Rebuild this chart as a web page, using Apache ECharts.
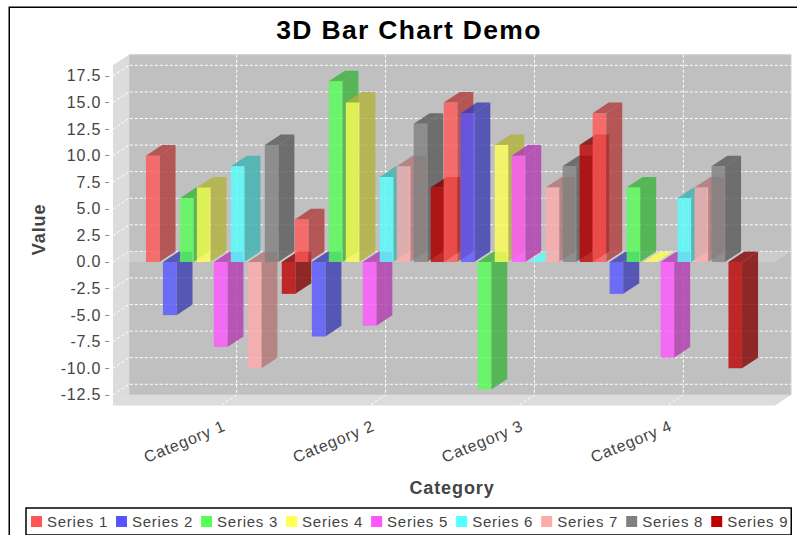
<!DOCTYPE html>
<html>
<head>
<meta charset="utf-8">
<script src="https://cdn.jsdelivr.net/npm/echarts@6/dist/echarts.min.js"></script>
<style>
html, body { margin: 0; padding: 0; background: #fff; }
#chart { width: 797px; height: 535px; }
/* the reference text is tracked out a little */
#chart text { letter-spacing: 0.05em; }
</style>
</head>
<body>
<div id="chart"></div>
<script>
var categories = ["Category 1", "Category 2", "Category 3", "Category 4"];
var seriesNames = ["Series 1", "Series 2", "Series 3", "Series 4", "Series 5", "Series 6", "Series 7", "Series 8", "Series 9"];
var seriesColors = ["#FF5555", "#5555FF", "#55FF55", "#FFFF55", "#FF55FF", "#55FFFF", "#FFAAAA", "#808080", "#BB0000"];
var series1 = [10, 4, 15, 14];
var series2 = [-5, -7, 14, -3];
var series3 = [6, 17, -12, 7];
var series4 = [7, 15, 11, 0];
var series5 = [-8, -6, 10, -9];
var series6 = [9, 8, 0, 6];
var series7 = [-10, 9, 7, 7];
var series8 = [11, 13, 9, 9];
var series9 = [-3, 7, 11, -10];
var seriesValues = [series1, series2, series3, series4, series5, series6, series7, series8, series9];
var yTicks = [-12.5, -10, -7.5, -5, -2.5, 0, 2.5, 5, 7.5, 10, 12.5, 15, 17.5];
var yMin = -13.5;
var yMax = 18.5;

//3D depth offset of the plot
var depthX = 16;
var depthY = 10.6;
var frontLeft = 113;
var frontRight = 775;
var textFont = "Liberation Sans";

function darker(hex) {
    var r = parseInt(hex.substr(1, 2), 16);
    var g = parseInt(hex.substr(3, 2), 16);
    var b = parseInt(hex.substr(5, 2), 16);
    return "rgb(" + Math.floor(r * 0.7) + "," + Math.floor(g * 0.7) + "," + Math.floor(b * 0.7) + ")";
}

function poly(points, style, z2) {
    return { type: "polygon", shape: { points: points }, style: style, z2: z2, silent: true };
}

function dashed(points) {
    return {
        type: "polyline",
        shape: { points: points },
        style: { fill: null, stroke: "#fff", lineWidth: 1, lineDash: [3, 2] },
        z2: -1,
        silent: true
    };
}

//walls, floor, grid lines and the zero plane
function renderWalls(params, api) {
    var top = api.coord([0, yMax])[1];
    var bottom = api.coord([0, yMin])[1];
    var zero = api.coord([0, 0])[1];
    var backLeft = frontLeft + depthX;
    var backRight = frontRight + depthX;
    var children = [
        poly([[backLeft, top - depthY], [backRight, top - depthY], [backRight, bottom - depthY], [backLeft, bottom - depthY]],
            { fill: "#c0c0c0", stroke: "#d0d0d0", lineWidth: 1 }, -3),
        poly([[frontLeft, top], [backLeft, top - depthY], [backLeft, bottom - depthY], [frontLeft, bottom]],
            { fill: "#dcdcdc" }, -3),
        poly([[frontLeft, bottom], [backLeft, bottom - depthY], [backRight, bottom - depthY], [frontRight, bottom]],
            { fill: "#dcdcdc" }, -3)
    ];
    for (var i = 0; i < yTicks.length; i++) {
        var y = api.coord([0, yTicks[i]])[1];
        children.push(dashed([[frontLeft, y], [backLeft, y - depthY], [backRight, y - depthY]]));
    }
    for (var c = 0; c < categories.length; c++) {
        var x = api.coord([c, 0])[0];
        children.push(dashed([[x + depthX, top - depthY], [x + depthX, bottom - depthY], [x, bottom]]));
    }
    children.push(poly([[frontLeft, zero], [backLeft, zero - depthY], [backRight, zero - depthY], [frontRight, zero]],
        { fill: "rgba(225,225,225,0.35)" }, 0));
    return { type: "group", children: children };
}

function makeBarRenderer(index) {
    return function (params, api) {
        var center = api.coord([api.value(0), 0]);
        var tip = api.coord([api.value(0), api.value(1)]);
        var step = api.size([1, 0])[0] * 0.114;
        var barWidth = step * 0.8;
        var left = center[0] + (index - 4) * step - barWidth / 2;
        var right = left + barWidth;
        var upper = Math.min(center[1], tip[1]);
        var lower = Math.max(center[1], tip[1]);
        var color = seriesColors[index];
        var dark = darker(color);
        var topFill = api.value(1) === 0 ? color : dark;
        //bars paint category by category, series by series inside each
        var order = (api.value(0) + 1) * 30 + index * 3;
        return {
            type: "group",
            children: [
                poly([[right, upper], [right + depthX, upper - depthY], [right + depthX, lower - depthY], [right, lower]],
                    { fill: dark, opacity: 0.8 }, order),
                poly([[left, upper], [left + depthX, upper - depthY], [right + depthX, upper - depthY], [right, upper]],
                    { fill: topFill, opacity: 0.8 }, order + 1),
                poly([[left, upper], [right, upper], [right, lower], [left, lower]],
                    { fill: color, opacity: 0.8 }, order + 2)
            ]
        };
    };
}

var seriesList = [{
    type: "custom",
    name: "walls",
    silent: true,
    renderItem: renderWalls,
    encode: { x: 0, y: 1 },
    data: [[0, 0]]
}];
seriesNames.forEach(function (name, i) {
    seriesList.push({
        type: "custom",
        name: name,
        silent: true,
        itemStyle: { color: seriesColors[i] },
        renderItem: makeBarRenderer(i),
        encode: { x: 0, y: 1 },
        data: seriesValues[i].map(function (v, c) { return [c, v]; })
    });
});

var chart = echarts.init(document.getElementById("chart"), null, { renderer: "svg" });
chart.setOption({
    animation: false,
    backgroundColor: "#fff",
    title: {
        text: "3D Bar Chart Demo",
        left: 409,
        top: 16,
        padding: 0,
        textAlign: "center",
        textStyle: { fontFamily: textFont, fontSize: 26.5, fontWeight: "bold", color: "#000" }
    },
    legend: {
        data: seriesNames,
        left: 26,
        top: 508,
        orient: "horizontal",
        padding: [6, 9, 6, 5],
        itemWidth: 11,
        itemHeight: 11,
        itemGap: 14,
        icon: "rect",
        borderColor: "#000",
        borderWidth: 1.5,
        selectedMode: false,
        textStyle: { fontFamily: textFont, fontSize: 15, color: "#444" }
    },
    grid: { left: 146.2, width: 595.6, top: 65.3, height: 340.2 },
    xAxis: {
        type: "category",
        data: categories,
        axisLine: { show: false },
        axisTick: { show: false },
        splitLine: { show: false },
        axisLabel: {
            rotate: 22.5,
            margin: 21,
            padding: [0, -4, 0, 0],
            interval: 0,
            fontFamily: textFont,
            fontSize: 16,
            color: "#444"
        },
        name: "Category",
        nameLocation: "center",
        nameGap: 73,
        nameMoveOverlap: false,
        nameTextStyle: { fontFamily: textFont, fontSize: 18, fontWeight: "bold", color: "#444", padding: [0, 0, 0, 16] }
    },
    yAxis: {
        type: "value",
        min: yMin,
        max: yMax,
        offset: 37,
        axisLine: { show: false },
        splitLine: { show: false },
        axisTick: { show: true, length: 4, customValues: yTicks, lineStyle: { color: "#888", width: 1 } },
        axisLabel: {
            margin: 8,
            padding: [2, 0, 0, 0],
            customValues: yTicks,
            fontFamily: textFont,
            fontSize: 16,
            color: "#444",
            formatter: function (v) { return v.toFixed(1); }
        },
        name: "Value",
        nameLocation: "center",
        nameGap: 61,
        nameMoveOverlap: false,
        nameRotate: 90,
        nameTextStyle: { fontFamily: textFont, fontSize: 18, fontWeight: "bold", color: "#444", padding: [0, 0, 0, 12] }
    },
    graphic: [{
        type: "rect",
        z: -1,
        silent: true,
        shape: { x: 9.25, y: 7.25, width: 900, height: 900 },
        style: { fill: null, stroke: "#000", lineWidth: 1.5 }
    }],
    series: seriesList
});
</script>
</body>
</html>
